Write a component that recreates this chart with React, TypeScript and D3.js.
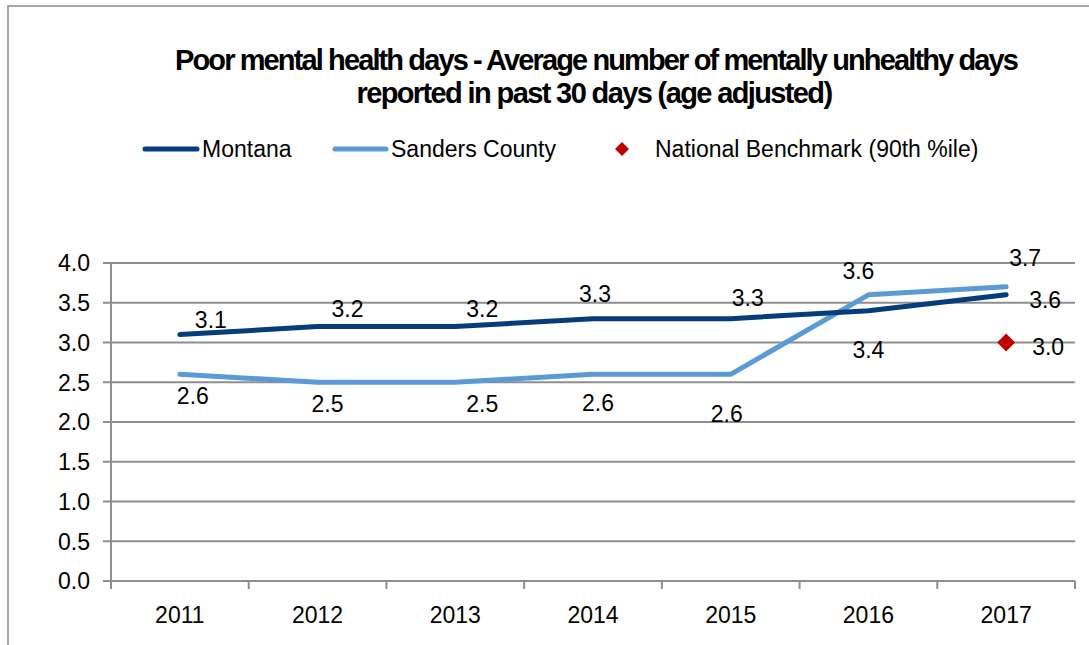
import React, { useLayoutEffect, useRef } from 'react';
import * as d3 from 'd3';

const years = ['2011', '2012', '2013', '2014', '2015', '2016', '2017'];
const montana = [3.1, 3.2, 3.2, 3.3, 3.3, 3.4, 3.6];
const sanders = [2.6, 2.5, 2.5, 2.6, 2.6, 3.6, 3.7];
const benchmark = [{ year: '2017', value: 3.0 }];
const yTicks = [0, 0.5, 1, 1.5, 2, 2.5, 3, 3.5, 4];
const titleLines = [
  'Poor mental health days - Average number of mentally unhealthy days',
  'reported in past 30 days (age adjusted)'
];

// hand-placed label nudges, as in the original workbook
const montanaLabelOffsets = [[31, -15], [30, -18], [27, -18], [2, -25], [17, -21], [0, 39], [39, 5]];
const sandersLabelOffsets = [[13, 21], [10, 21], [27, 21], [5, 28], [-4, 39], [-10, -24], [19, -29]];

const W = 1089;
const H = 645;
const FONT = '"Liberation Sans", Arial, Helvetica, sans-serif';
const MONTANA_COLOR = '#043c7c';
const SANDERS_COLOR = '#5b9bd5';
const BENCH_COLOR = '#c00000';
const GRID = '#8e8e8e';

// tight title, squeezed to the width the original shows
const TitleLine: React.FC<{ text: string; x: number; y: number; width: number }> = ({ text, x, y, width }) => {
  const ref = useRef<SVGTextElement>(null);
  useLayoutEffect(() => {
    const el = ref.current;
    if (!el) return;
    el.setAttribute('letter-spacing', '0');
    const natural = el.getComputedTextLength();
    const spacing = (width - natural) / text.length;
    el.setAttribute('letter-spacing', `${spacing}`);
  }, [text, width]);
  return (
    <text ref={ref} x={x} y={y} textAnchor="middle" fontSize={29} fontWeight="bold" fill="#000">
      {text}
    </text>
  );
};

const App: React.FC = () => {
  const x = d3.scaleBand<string>().domain(years).range([111, 1075]);
  const y = d3.scaleLinear().domain([0, 4]).range([581, 263]);
  const cx = (yr: string) => (x(yr) ?? 0) + x.bandwidth() / 2;

  const line = d3.line<number>()
    .x((_, i) => cx(years[i]))
    .y((d) => y(d));

  const boundaries = [...years.map((yr) => x(yr) ?? 0), x.range()[1]];

  const diamond = (px: number, py: number, r: number) =>
    `M${px},${py - r}L${px + r},${py}L${px},${py + r}L${px - r},${py}Z`;

  return (
    <svg width={W} height={H} style={{ position: 'absolute', left: 0, top: 0, background: '#fff' }} fontFamily={FONT}>
      <rect x={8} y={6} width={1100} height={660} fill="#fff" stroke="#8c8c8c" strokeWidth={1.5} />

      <TitleLine text={titleLines[0]} x={596} y={70} width={842} />
      <TitleLine text={titleLines[1]} x={594} y={103} width={475} />

      {/* legend */}
      <g fontSize={23} fill="#000">
        <line x1={145} x2={197} y1={149} y2={149} stroke={MONTANA_COLOR} strokeWidth={5} strokeLinecap="round" />
        <text x={202} y={157}>Montana</text>
        <line x1={335} x2={386} y1={149} y2={149} stroke={SANDERS_COLOR} strokeWidth={5} strokeLinecap="round" />
        <text x={391} y={157}>Sanders County</text>
        <path d={diamond(622, 149, 7)} fill={BENCH_COLOR} />
        <text x={655} y={157}>National Benchmark (90th %ile)</text>
      </g>

      {/* gridlines and y ticks */}
      {yTicks.map((t) => (
        <g key={t}>
          <line x1={103} x2={1075} y1={y(t)} y2={y(t)} stroke={GRID} strokeWidth={2} />
          <text x={90} y={y(t)} dy="0.36em" textAnchor="end" fontSize={23} fill="#000">{t.toFixed(1)}</text>
        </g>
      ))}
      <line x1={111} x2={111} y1={y(4)} y2={589} stroke={GRID} strokeWidth={2} />
      {boundaries.map((b, i) => (
        <line key={i} x1={b} x2={b} y1={581} y2={589} stroke={GRID} strokeWidth={2} />
      ))}
      {years.map((yr) => (
        <text key={yr} x={cx(yr)} y={623} textAnchor="middle" fontSize={23} fill="#000">{yr}</text>
      ))}

      {/* series */}
      <path d={line(sanders) ?? ''} fill="none" stroke={SANDERS_COLOR} strokeWidth={5} strokeLinecap="round" strokeLinejoin="round" />
      <path d={line(montana) ?? ''} fill="none" stroke={MONTANA_COLOR} strokeWidth={5} strokeLinecap="round" strokeLinejoin="round" />
      {benchmark.map((b) => (
        <path key={b.year} d={diamond(cx(b.year), y(b.value), 9)} fill={BENCH_COLOR} />
      ))}

      {/* data labels */}
      <g fontSize={23} fill="#000" textAnchor="middle">
        {montana.map((v, i) => (
          <text key={`m${i}`} x={cx(years[i]) + montanaLabelOffsets[i][0]} y={y(v) + montanaLabelOffsets[i][1]} dy="0.36em">
            {v.toFixed(1)}
          </text>
        ))}
        {sanders.map((v, i) => (
          <text key={`s${i}`} x={cx(years[i]) + sandersLabelOffsets[i][0]} y={y(v) + sandersLabelOffsets[i][1]} dy="0.36em">
            {v.toFixed(1)}
          </text>
        ))}
        {benchmark.map((b) => (
          <text key={`b${b.year}`} x={cx(b.year) + 42} y={y(b.value) + 4} dy="0.36em">{b.value.toFixed(1)}</text>
        ))}
      </g>
    </svg>
  );
};

export default App;
